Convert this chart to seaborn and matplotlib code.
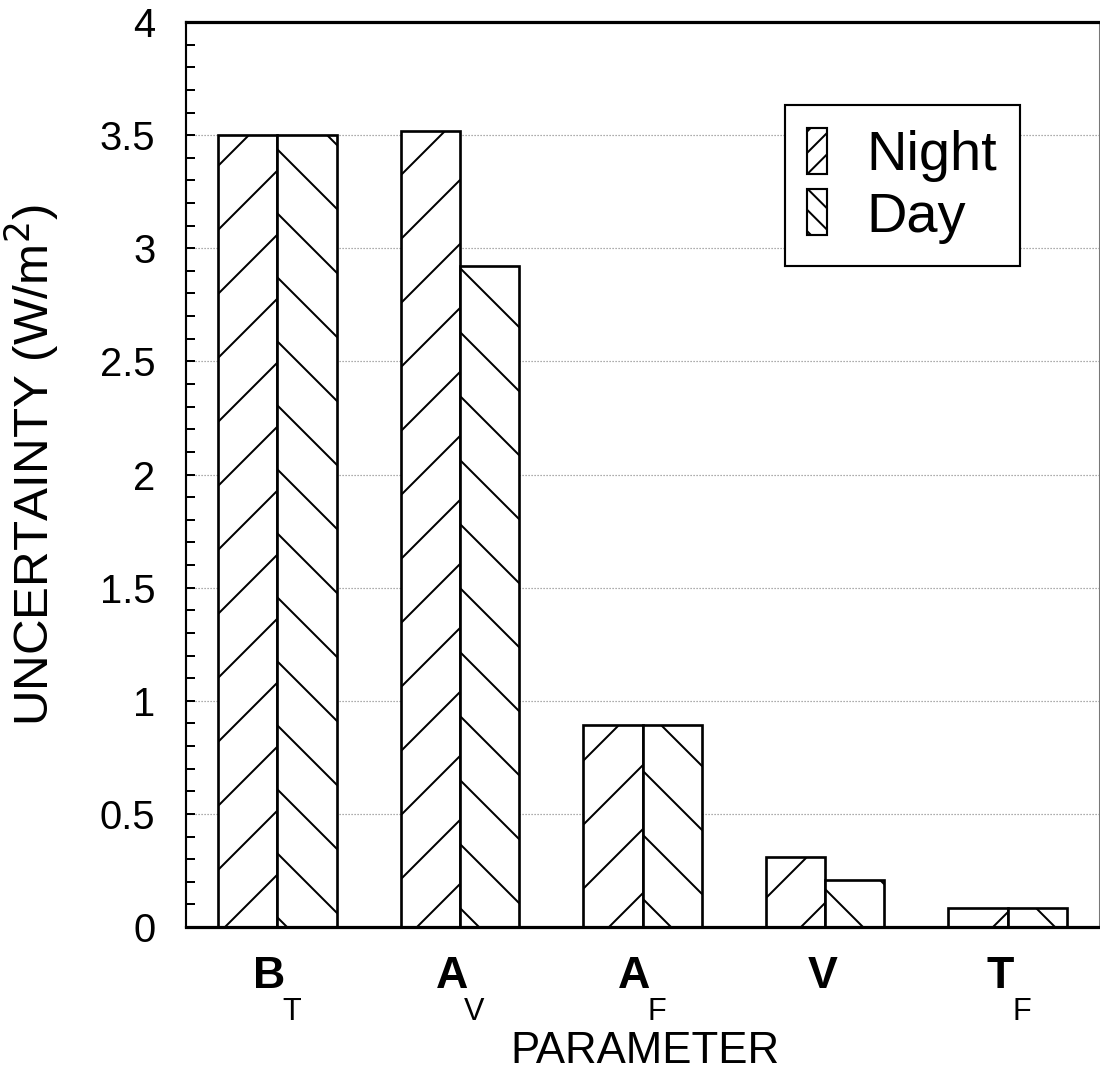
import matplotlib
matplotlib.use("Agg")
import matplotlib.pyplot as plt
from matplotlib.patches import Patch
from matplotlib.transforms import ScaledTranslation
from matplotlib.ticker import MultipleLocator, FuncFormatter
import seaborn as sns
import pandas as pd

# ---- data ----
parameters = ["B_T", "A_V", "A_F", "V", "T_F"]
main_labels = ["B", "A", "A", "V", "T"]
sub_labels = ["T", "V", "F", "", "F"]
night = [3.50, 3.52, 0.895, 0.31, 0.085]
day = [3.50, 2.92, 0.895, 0.207, 0.085]
periods = ["Night", "Day"]
y_ticks = [0, 0.5, 1, 1.5, 2, 2.5, 3, 3.5, 4]

df = pd.DataFrame({
    "Parameter": parameters * 2,
    "Uncertainty": night + day,
    "Period": [periods[0]] * len(parameters) + [periods[1]] * len(parameters),
})

sns.set_style("white")
plt.rcParams["font.family"] = ["Liberation Sans", "DejaVu Sans"]
plt.rcParams["hatch.linewidth"] = 0.75
plt.rcParams["hatch.color"] = "black"
for k in ["text.color", "axes.labelcolor", "xtick.color", "ytick.color", "axes.edgecolor"]:
    plt.rcParams[k] = "black"

DPI = 192
fig = plt.figure(figsize=(1100 / DPI, 1078 / DPI), dpi=DPI)
ax = fig.add_axes([186 / 1100, 1 - 927 / 1078, (1099 - 186) / 1100, (927 - 22) / 1078])

sns.barplot(data=df, x="Parameter", y="Uncertainty", hue="Period",
            order=parameters, hue_order=periods,
            palette=["white", "white"], edgecolor="black", linewidth=1.0,
            width=0.65, errorbar=None, legend=False, ax=ax)

hatches = ["/", "\\"]
for cont, h in zip(ax.containers, hatches):
    for bar in cont:
        bar.set_hatch(h)
        bar.set_edgecolor("black")

ax.set_xlim(-0.5, len(parameters) - 0.5)
ax.set_ylim(0, 4)
ax.set_yticks(y_ticks)
ax.yaxis.set_major_formatter(FuncFormatter(lambda v, p: f"{v:g}"))
ax.yaxis.set_minor_locator(MultipleLocator(0.1))
ax.set_axisbelow(True)
ax.grid(axis="y", which="major", linestyle=(0, (1, 1.5)), color="#8a8a8a", linewidth=0.45)
ax.grid(axis="x", visible=False)

ax.tick_params(axis="y", which="both", direction="in", length=3.4, width=0.75,
               labelsize=15, pad=11.5, left=True, right=False, colors="black")
ax.tick_params(axis="x", length=0, pad=11, labelsize=16.8, colors="black")

# spines
ax.spines["left"].set_linewidth(0.8)
for s in ["top", "bottom"]:
    ax.spines[s].set_linewidth(1.2)
ax.spines["right"].set_linewidth(0.4)
ax.spines["right"].set_color("#777777")
for s in ["left", "top", "bottom"]:
    ax.spines[s].set_color("black")

# x tick labels with subscripts
ax.set_xticks(range(len(parameters)))
ax.set_xticklabels(main_labels, fontweight="bold")
for i, lab in enumerate(ax.get_xticklabels()):
    dx = -8 if sub_labels[i] else -2
    lab.set_transform(lab.get_transform() + ScaledTranslation(dx / DPI, 0, fig.dpi_scale_trans))
for i, sub in enumerate(sub_labels):
    if sub:
        ax.annotate(sub, xy=(i, 0), xycoords="data", xytext=(14, -93),
                    textcoords="offset pixels", ha="center", va="baseline",
                    fontsize=11.5, color="black", annotation_clip=False)

ax.set_xlabel("PARAMETER", fontsize=16.4, color="black")
ax.xaxis.set_label_coords(0.503, -0.115)
ax.set_ylabel("UNCERTAINTY (W/m$^2$)", fontsize=18.5, color="black")
ax.yaxis.set_label_coords(-0.137, 0.511)

handles = [Patch(facecolor="white", edgecolor="black", hatch="///", linewidth=0.8),
           Patch(facecolor="white", edgecolor="black", hatch="\\\\\\", linewidth=0.8)]
leg = ax.legend(handles, periods, loc="upper right", bbox_to_anchor=(0.913, 0.908),
                borderaxespad=0, fontsize=21, frameon=True, fancybox=False,
                handlelength=0.36, handleheight=0.9, handletextpad=0.7,
                labelspacing=0.12, borderpad=0.4, framealpha=1)
leg.get_frame().set_edgecolor("black")
leg.get_frame().set_linewidth(0.8)
for t in leg.get_texts():
    t.set_color("black")

fig.savefig("out.png", dpi=DPI)
